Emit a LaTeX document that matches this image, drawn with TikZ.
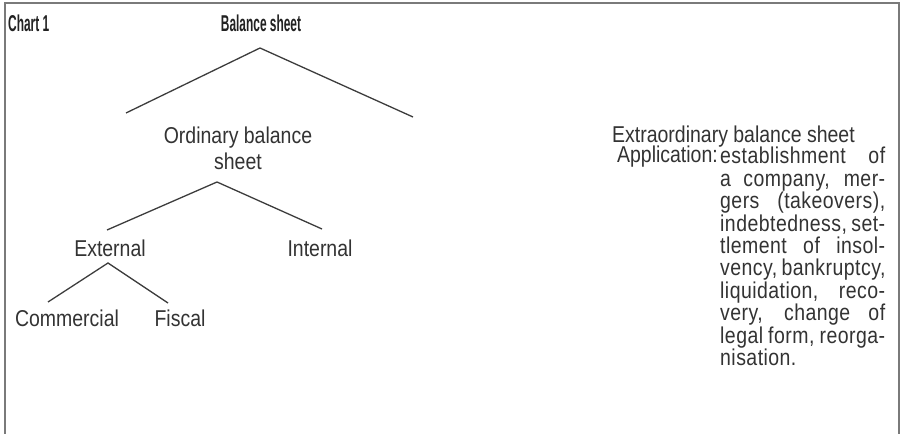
\documentclass[tikz,border=0pt]{standalone}
\usepackage{fontspec}
\setmainfont{Liberation Sans}[FakeStretch=0.85]
\newfontfamily\headfont{Liberation Sans}[FakeStretch=0.52]
\newfontfamily\blockfont{Liberation Sans}[FakeStretch=0.85, LetterSpace=2]
\usetikzlibrary{positioning, calc}
\definecolor{inkgray}{HTML}{333333}
\definecolor{headgray}{HTML}{222222}
\definecolor{linegray}{HTML}{3C3C3C}
\definecolor{framegray}{HTML}{7A7A7A}
\tikzset{
  lbl/.style={
    inner sep=0pt, text=inkgray,
    font=\fontsize{23}{22.5}\selectfont
  },
  headlbl/.style={
    inner sep=0pt, text=headgray,
    font=\headfont\bfseries\fontsize{23}{22.5}\selectfont
  },
  branch/.style={draw=linegray, line width=1.3pt},
  frame/.style={draw=framegray, line width=1.6pt}
}
\newcommand{\jline}[1]{\makebox[165bp][s]{#1}}

\begin{document}
\begin{tikzpicture}[x=1bp, y=-1bp]
    \useasboundingbox (0,0) rectangle (906,434);
    \fill[white] (0,0) rectangle (906,434);

    % Frame (open at the bottom)
    \draw[frame] (5,440) -- (5,3) -- (899,3) -- (899,440);

    % Headings
    \node[headlbl, anchor=base west] (chart) at (8,32) {Chart 1};
    \node[headlbl, anchor=base] (title) at (261,32) {Balance sheet};

    % Ordinary branch (base = last line)
    \node[lbl, anchor=base, align=center,
          font=\fontsize{23}{27}\selectfont] (ord) at (238,170)
      {Ordinary balance\\sheet};
    \node[lbl, anchor=base] (ext) at (110,257) {External};
    \node[lbl, anchor=base] (int) at (320,257) {Internal};
    \node[lbl, anchor=base] (com) at (67,327) {Commercial};
    \node[lbl, anchor=base] (fis) at (180,327) {Fiscal};

    % Extraordinary branch
    \node[lbl, anchor=base west] (extra) at (612,143)
      {Extraordinary balance sheet};
    \node[lbl, anchor=base east] (app) at (718,163) {Application:};
    \node[lbl, anchor=base west, align=left,
          font=\blockfont\fontsize{23}{22.5}\selectfont] (uses) at (720,365.5)
      {\jline{establishment of}\\
       \jline{a company, mer-}\\
       \jline{gers (takeovers),}\\
       \jline{indebtedness, set-}\\
       \jline{tlement of insol-}\\
       \jline{vency, bankruptcy,}\\
       \jline{liquidation, reco-}\\
       \jline{very, change of}\\
       \jline{legal form, reorga-}\\
       nisation.};

    % Connector ends
    \coordinate (title-foot) at (260,48);
    \coordinate (ord-head) at (126,113);
    \coordinate (extra-head) at (413,117);
    \coordinate (ord-foot) at (217,182);
    \coordinate (ext-head) at (107,230);
    \coordinate (int-head) at (322,229);
    \coordinate (ext-foot) at (108,263);
    \coordinate (com-head) at (48,302);
    \coordinate (fis-head) at (168,303);

    % Branches
    \draw[branch] (ord-head) -- (title-foot) -- (extra-head);
    \draw[branch] (ext-head) -- (ord-foot) -- (int-head);
    \draw[branch] (com-head) -- (ext-foot) -- (fis-head);
\end{tikzpicture}
\end{document}
